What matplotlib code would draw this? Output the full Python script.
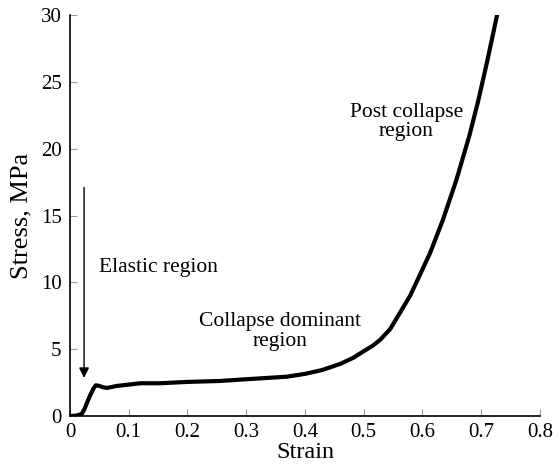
import matplotlib.pyplot as plt

# Stress-strain curve
strain = [0, 0.01, 0.02, 0.025, 0.03, 0.035, 0.04, 0.044, 0.05, 0.056, 0.063,
          0.08, 0.1, 0.12, 0.153, 0.2, 0.255, 0.3, 0.369, 0.4, 0.43, 0.46,
          0.482, 0.5, 0.515, 0.528, 0.545, 0.56, 0.579, 0.595, 0.613, 0.635,
          0.658, 0.68, 0.695, 0.71, 0.727]
stress = [0, 0.02, 0.15, 0.55, 1.1, 1.6, 2.05, 2.3, 2.25, 2.15, 2.1,
          2.25, 2.35, 2.45, 2.45, 2.55, 2.62, 2.75, 2.94, 3.15, 3.45, 3.9,
          4.35, 4.85, 5.25, 5.7, 6.5, 7.6, 9.0, 10.5, 12.2, 14.7,
          17.7, 21.0, 23.6, 26.5, 30.0]

x_ticks = [0, 0.1, 0.2, 0.3, 0.4, 0.5, 0.6, 0.7, 0.8]
x_tick_labels = ['0', '0.1', '0.2', '0.3', '0.4', '0.5', '0.6', '0.7', '0.8']
y_ticks = [0, 5, 10, 15, 20, 25, 30]

plt.rcParams['font.family'] = ['Liberation Serif', 'DejaVu Serif']

fig, ax = plt.subplots(figsize=(5.58, 4.66), dpi=100)
fig.subplots_adjust(left=0.1254, right=0.9677, bottom=0.1073, top=0.9678)

ax.plot(strain, stress, color='black', linewidth=3, solid_joinstyle='round')

ax.set_xlim(0, 0.8)
ax.set_ylim(0, 30)
ax.set_xticks(x_ticks)
ax.set_xticklabels(x_tick_labels)
ax.set_yticks(y_ticks)
ax.tick_params(direction='in', length=5, color='#999999', labelsize=15, pad=6)
ax.tick_params(axis='x', pad=5)
ax.spines['top'].set_visible(False)
ax.spines['right'].set_visible(False)
ax.spines['left'].set_linewidth(1.2)
ax.spines['bottom'].set_linewidth(1.2)

ax.set_xlabel('Strain', fontsize=17.5, labelpad=0)
ax.set_ylabel('Stress, MPa', fontsize=19, labelpad=6)

# region annotations
ax.annotate('', xy=(0.024, 2.85), xytext=(0.024, 17.1),
            arrowprops=dict(arrowstyle='-|>', color='black', lw=1,
                            mutation_scale=15, shrinkA=0, shrinkB=0))
ax.text(0.0494, 11.14, 'Elastic region', fontsize=15.5, ha='left', va='center')
ax.text(0.357, 6.3, 'Collapse dominant\nregion', fontsize=15.5, ha='center',
        va='center', linespacing=1.05)
ax.text(0.5727, 22.0, 'Post collapse\nregion', fontsize=15.5, ha='center',
        va='center', linespacing=1.05)

fig.savefig('out.png', dpi=100)
